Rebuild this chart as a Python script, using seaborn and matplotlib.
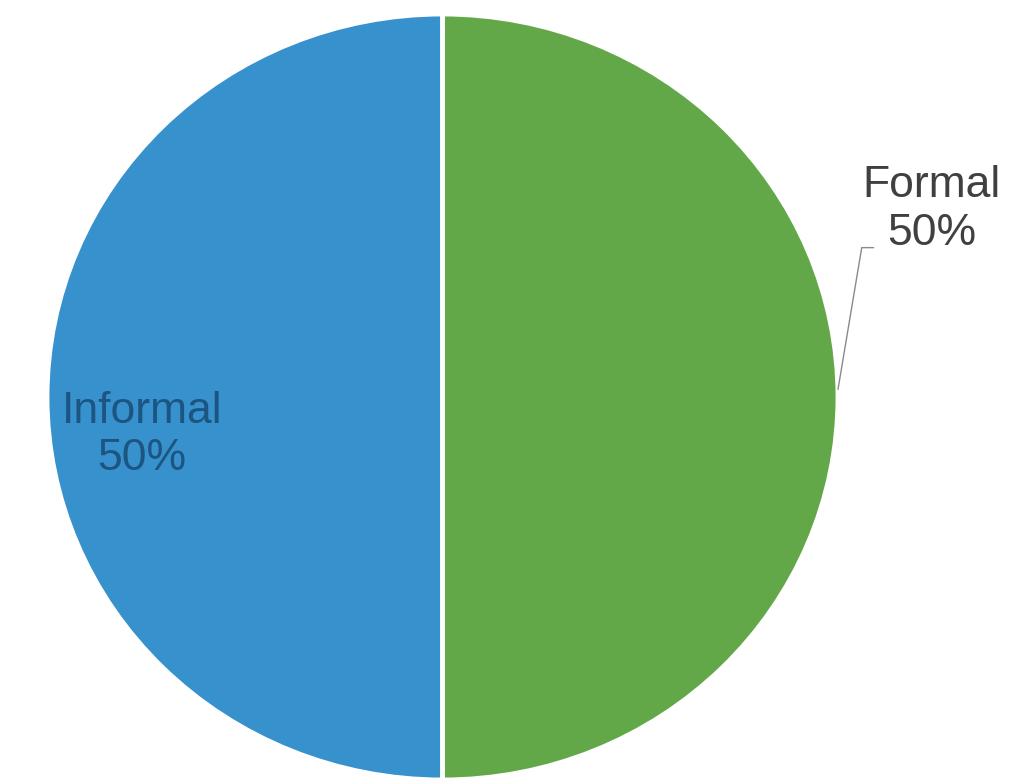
import matplotlib
matplotlib.use("Agg")
import matplotlib.pyplot as plt
import seaborn as sns

categories = ["Formal", "Informal"]
values = [50, 50]
colors = ["#62A849", "#3791CD"]

sns.set_theme(style="white")
plt.rcParams['font.family'] = ['Liberation Sans', 'DejaVu Sans']

fig = plt.figure(figsize=(10.24, 7.84), dpi=100)
ax = fig.add_axes([47/1024, 4/784, 791/1024, 766/784])
wedges, _ = ax.pie(values, colors=colors, startangle=90, counterclock=False,
                   radius=1.0, wedgeprops=dict(edgecolor="white", linewidth=3.5))
ax.set_aspect("auto")
ax.set_xlim(-1, 1)
ax.set_ylim(-1, 1)
ax.axis("off")

total = sum(values)
pct = [f"{v / total * 100:.0f}%" for v in values]

# Informal label inside
ax.text(-0.76, -0.10, f"{categories[1]}\n{pct[1]}", ha="center", va="center",
        fontsize=32, color="#1d5582", linespacing=1.2, clip_on=False)
# Formal label outside with leader line
ax.text(1.237, 0.49, f"{categories[0]}\n{pct[0]}", ha="center", va="center",
        fontsize=32, color="#404040", linespacing=1.2, clip_on=False)
ax.plot([1.0, 1.06, 1.09], [0.02, 0.39, 0.39], color="#8a8a8a", lw=1.0,
        clip_on=False)

fig.savefig("out.png", dpi=100)
